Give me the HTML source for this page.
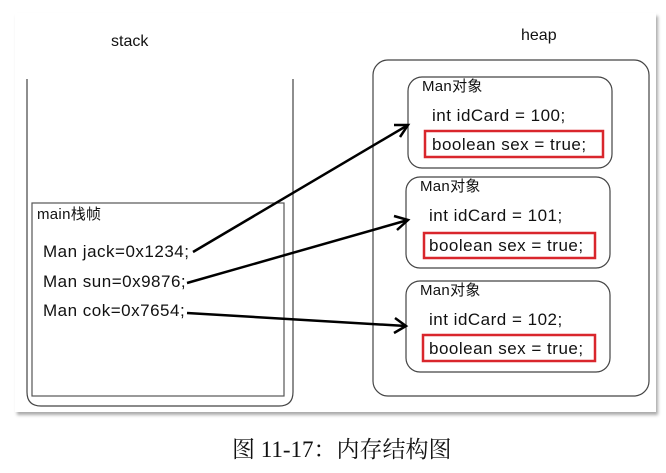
<!DOCTYPE html>
<html><head><meta charset="utf-8"><style>
body{margin:0;background:#fff;width:666px;height:473px;overflow:hidden;position:relative}
.t{position:absolute;font-family:"Liberation Sans","Noto Sans CJK SC",sans-serif;color:#111;white-space:nowrap;line-height:1}
.b{font-size:17px;letter-spacing:0.5px}
.m{font-size:15px;letter-spacing:0.3px}
</style></head><body>
<div style="position:absolute;left:15px;top:13px;width:641px;height:399px;background:#fff;box-shadow:2px 3px 3px #aaa"></div>
<svg style="position:absolute;left:0;top:0" width="666" height="473">
<path d="M27 79 V392 Q27 406 41 406 H279 Q293 406 293 392 V79" fill="none" stroke="#444" stroke-width="1.2"/>
<rect x="32" y="203" width="252" height="193" fill="none" stroke="#555" stroke-width="1.2"/>
<rect x="373" y="60" width="276" height="336" rx="15" fill="none" stroke="#444" stroke-width="1.2"/>
<rect x="408" y="77" width="204" height="91" rx="14" fill="none" stroke="#444" stroke-width="1.2"/>
<rect x="406" y="177" width="204" height="91" rx="14" fill="none" stroke="#444" stroke-width="1.2"/>
<rect x="406" y="281" width="204" height="91" rx="14" fill="none" stroke="#444" stroke-width="1.2"/>
<rect x="425" y="131" width="178" height="26" fill="none" stroke="#d9262c" stroke-width="2.5"/>
<rect x="424" y="233" width="171" height="25" fill="none" stroke="#d9262c" stroke-width="2.5"/>
<rect x="423" y="335" width="172" height="26" fill="none" stroke="#d9262c" stroke-width="2.5"/>
<g stroke="#000" stroke-width="2.5" fill="none">
<path d="M193 252 L408 125"/><path d="M394 125 L408 125 L400 137"/>
<path d="M187 283 L408 220"/><path d="M394 216 L408 220 L397 230"/>
<path d="M187 313 L406 326"/><path d="M395 318 L406 326 L394 333"/>
</g>
</svg>
<div class="t" style="left:111px;top:34px;font-size:16px">stack</div>
<div class="t" style="left:521px;top:28px;font-size:16px">heap</div>
<div class="t m" style="left:37px;top:207px">main栈帧</div>
<div class="t b" style="left:43px;top:243px">Man jack=0x1234;</div>
<div class="t b" style="left:43px;top:273px">Man sun=0x9876;</div>
<div class="t b" style="left:43px;top:302px">Man cok=0x7654;</div>
<div class="t m" style="left:422px;top:79px">Man对象</div>
<div class="t b" style="left:432px;top:107px">int idCard = 100;</div>
<div class="t b" style="left:432px;top:136px">boolean sex = true;</div>
<div class="t m" style="left:420px;top:179px">Man对象</div>
<div class="t b" style="left:429px;top:207px">int idCard = 101;</div>
<div class="t b" style="left:429px;top:237px">boolean sex = true;</div>
<div class="t m" style="left:420px;top:283px">Man对象</div>
<div class="t b" style="left:429px;top:311px">int idCard = 102;</div>
<div class="t b" style="left:429px;top:340px">boolean sex = true;</div>
<div class="t" style="left:232px;top:438px;font-size:23px;font-family:'Liberation Serif','Noto Serif CJK SC',serif">图 11-17：内存结构图</div>
</body></html>
